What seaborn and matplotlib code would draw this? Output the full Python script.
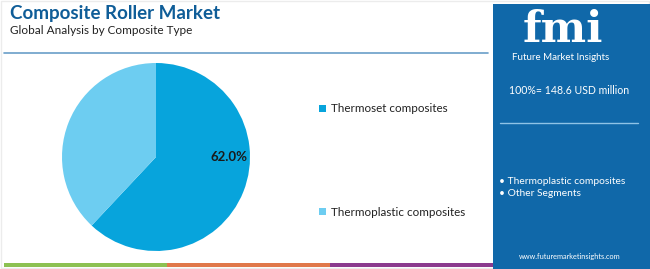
import matplotlib
matplotlib.use("Agg")
import matplotlib.pyplot as plt
import seaborn as sns
from matplotlib.patches import Rectangle

sns.set_theme(style="white")
plt.rcParams['font.family'] = ['Lato', 'DejaVu Sans']

segments = ["Thermoset composites", "Thermoplastic composites"]
shares = [62.0, 38.0]
colors = ["#07a4dc", "#6dcdf1"]
total_label = "100%= 148.6 USD million"
panel_bullets = ["Thermoplastic composites", "Other Segments"]
title = "Composite Roller Market"
subtitle = "Global Analysis by Composite Type"

W, H = 650, 269
PANEL = "#1068a9"
fig = plt.figure(figsize=(W / 100, H / 100), dpi=100)
fig.patch.set_facecolor("white")

def fx(px):
    return px / W

def fy(py):
    return 1 - py / H

bg = fig.add_axes([0, 0, 1, 1])
bg.set_xlim(0, W)
bg.set_ylim(H, 0)
bg.axis("off")

bg.add_patch(Rectangle((1, 1), W - 2, H - 2, fill=False, ec="#ececec", lw=1))
bg.plot([4, 488], [53, 53], color="#6a9ec8", lw=1.2)
for x0, x1, c in [(4, 167, "#8cc152"), (167, 330, "#e0784a"), (330, 494, "#8b3a8e")]:
    bg.add_patch(Rectangle((x0, 263), x1 - x0, 4, color=c, lw=0))
bg.add_patch(Rectangle((493, 4), W - 493, H - 4, color=PANEL, lw=0))

bg.text(10, 13, title, fontsize=13.5, fontweight="bold", color="#0f5d98", va="center", ha="left")
bg.text(10, 31, subtitle, fontsize=8.5, color="#222222", va="center", ha="left")

# panel content
bg.text(563, 42, "fmi", fontsize=31, fontweight="bold", color="white", ha="center",
        va="baseline", family="DejaVu Serif")
for yy in range(13, 43, 3):
    bg.plot([508, 620], [yy, yy], color=PANEL, lw=0.6)
bg.text(561, 58, "Future Market Insights", fontsize=7, color="white", ha="center", va="center")
bg.text(569, 90, total_label, fontsize=7.6, color="white", ha="center", va="center")
bg.plot([500, 638], [123, 123], color="#8fc3e6", lw=1)
for i, t in enumerate(panel_bullets):
    bg.text(499, 181 + i * 13, "\u2022 " + t, fontsize=7.4, color="white", ha="left", va="center")
bg.text(570, 257, "www.futuremarketinsights.com", fontsize=5.3, color="white", ha="center", va="center")

# legend
for i, (s, c) in enumerate(zip(segments, colors)):
    y = 109 + i * 103
    bg.add_patch(Rectangle((319, y - 4), 7, 7, color=c, lw=0))
    bg.text(331, y, s, fontsize=8.4, color="#222222", ha="left", va="center")

# pie
cx, cy, r = 156, 157, 94
ax = fig.add_axes([fx(cx - r), fy(cy + r), 2 * r / W, 2 * r / H])
ax.pie(shares, colors=colors, startangle=90, counterclock=False,
       wedgeprops=dict(linewidth=0))
ax.set_aspect("auto")
ax.set_xlim(-1, 1)
ax.set_ylim(-1, 1)
ax.text(0.78, 0.0, f"{shares[0]:.1f}%", fontsize=9.5, fontweight="bold",
        color="#1a1a1a", ha="center", va="center")

fig.savefig("out.png", dpi=100, facecolor="white")
